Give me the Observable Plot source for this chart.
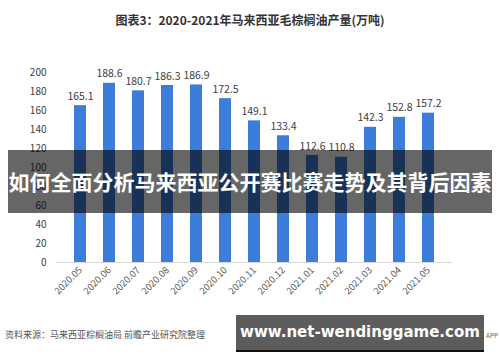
<!DOCTYPE html>
<html><head><meta charset="utf-8">
<script src="https://cdn.jsdelivr.net/npm/d3@7"></script>
<script src="https://cdn.jsdelivr.net/npm/@observablehq/plot@0.6"></script>
<style>
html,body{margin:0;padding:0;background:#fff;}
#wrap{position:relative;width:500px;height:362px;overflow:hidden;font-family:"Noto Sans CJK SC","Noto Sans",sans-serif;}
#chart svg{display:block;}
.abs{position:absolute;white-space:nowrap;}
#title{left:0;width:500px;top:11px;text-align:center;font-size:12px;font-weight:bold;color:#333;line-height:18px;}
#banner{left:8px;top:150px;width:484px;height:63px;background:rgba(0,0,0,0.6);color:#fff;font-weight:bold;font-size:21px;line-height:63px;text-align:center;}
#source{left:5px;top:328px;font-size:9px;color:#555;line-height:14px;}
#app{left:486px;top:330px;font-size:6.5px;color:#666;line-height:10px;}
#wm{left:236px;top:315px;width:248px;height:35px;background:#5c5c5c;border-bottom:2px solid #111;color:#fff;font-family:"DejaVu Sans",sans-serif;font-weight:bold;font-size:15px;line-height:35px;text-align:center;}
</style>
</head><body>
<div id="wrap">
  <div id="chart"></div>
  <div id="title" class="abs">图表3：2020-2021年马来西亚毛棕榈油产量(万吨)</div>
  <div id="banner" class="abs">如何全面分析马来西亚公开赛比赛走势及其背后因素</div>
  <div id="source" class="abs">资料来源：马来西亚棕榈油局 前瞻产业研究院整理</div>
  <div id="app" class="abs">APP</div>
  <div id="wm" class="abs">www.net-wendinggame.com</div>
</div>
<script>
const months = ["2020.05","2020.06","2020.07","2020.08","2020.09","2020.10","2020.11","2020.12","2021.01","2021.02","2021.03","2021.04","2021.05"];
const output = [165.1,188.6,180.7,186.3,186.9,172.5,149.1,133.4,112.6,110.8,142.3,152.8,157.2];
const yTicks = [0,20,40,60,80,100,120,140,160,180,200];

const data = months.map((m,i)=>({month:m, value:output[i]}));

const chart = Plot.plot({
  width: 500,
  height: 362,
  marginTop: 72,
  marginBottom: 100,
  marginLeft: 56,
  marginRight: 48,
  style: {fontFamily: "'Noto Sans CJK SC','Noto Sans',sans-serif", background: "transparent"},
  x: {domain: months, padding: 0.57, label: null},
  y: {domain: [0,200], label: null},
  marks: [
    Plot.barY(data, {x: "month", y: "value", fill: "#3b7dd8"}),
    Plot.ruleY([0], {stroke: "#d9d9d9", strokeWidth: 1}),
    Plot.text(data, {x: "month", y: "value", text: d => d.value.toFixed(1), lineAnchor: "bottom", dy: -6, fontSize: 10.5, fill: "#404040"}),
    Plot.axisY({ticks: yTicks, tickSize: 0, tickPadding: 10, fontSize: 10, color: "#404040", label: null}),
    Plot.axisX({tickSize: 0, tickPadding: 6, tickRotate: -45, fontSize: 9.5, color: "#595959", label: null})
  ]
});
document.getElementById("chart").appendChild(chart);
</script>
</body></html>
